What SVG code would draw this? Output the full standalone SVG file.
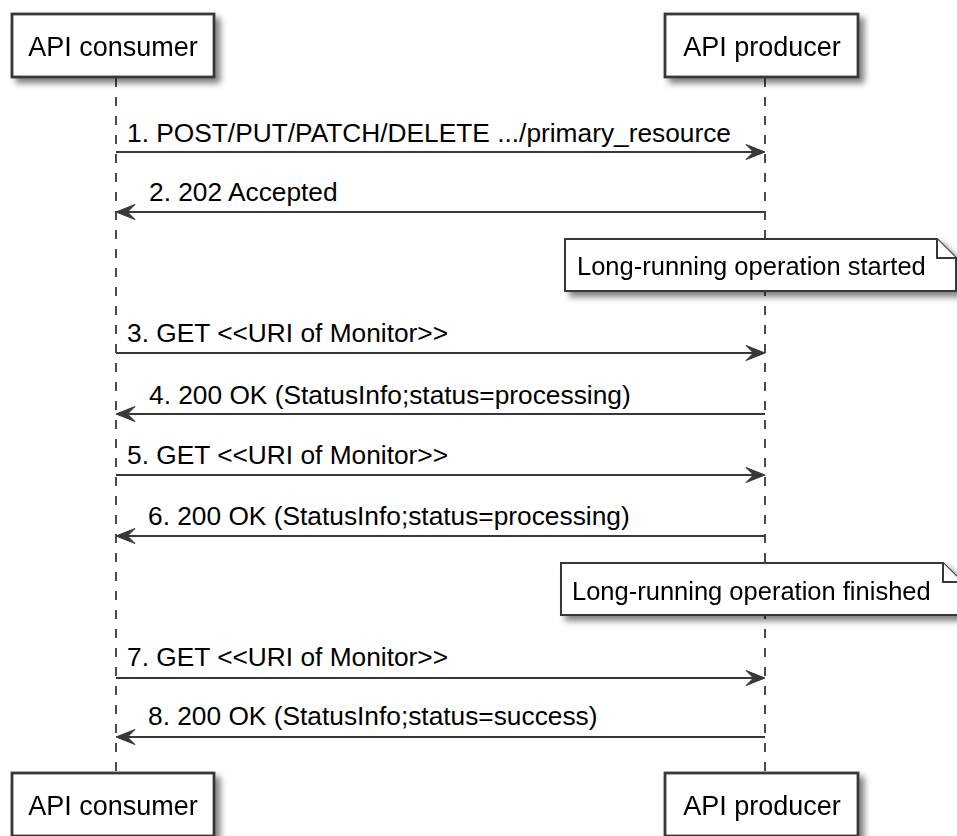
<svg xmlns="http://www.w3.org/2000/svg" width="957" height="836" viewBox="0 0 957 836">
  <style>
    .box { fill: #ffffff; stroke: #383838; stroke-width: 2.8; }
    .note { fill: #ffffff; stroke: #383838; stroke-width: 2; }
    .life { stroke: #383838; stroke-width: 1.8; stroke-dasharray: 9 10; fill: none; }
    .msg { stroke: #383838; stroke-width: 2; fill: none; }
    .head { fill: #383838; stroke: #383838; stroke-width: 1; }
    .ptxt { font-family: "Liberation Sans", Arial, sans-serif; font-size: 27px; fill: #000; text-anchor: middle; }
    .mtxt { font-family: "Liberation Sans", Arial, sans-serif; font-size: 26.3px; fill: #000; }
    .ntxt { font-family: "Liberation Sans", Arial, sans-serif; font-size: 25.5px; fill: #000; }
  </style>
  <defs>
    <filter id="shadow" x="-10%" y="-20%" width="130%" height="160%">
      <feGaussianBlur in="SourceAlpha" stdDeviation="3"/>
      <feOffset dx="5" dy="5" result="b"/>
      <feComponentTransfer><feFuncA type="linear" slope="0.5"/></feComponentTransfer>
      <feMerge><feMergeNode/><feMergeNode in="SourceGraphic"/></feMerge>
    </filter>
  </defs>
  <rect width="957" height="836" fill="#ffffff"/>

  <!-- lifelines -->
  <g id="lifelines">
    <line class="life" x1="116" y1="78" x2="116" y2="773"/>
    <line class="life" x1="765" y1="78" x2="765" y2="773"/>
  </g>

  <!-- participants -->
  <g id="consumer-top" filter="url(#shadow)">
    <rect class="box" x="12" y="14" width="202" height="63"/>
    <text class="ptxt" x="113" y="56">API consumer</text>
  </g>
  <g id="producer-top" filter="url(#shadow)">
    <rect class="box" x="665" y="14" width="193" height="63"/>
    <text class="ptxt" x="762" y="56">API producer</text>
  </g>
  <g id="consumer-bottom" filter="url(#shadow)">
    <rect class="box" x="12" y="773" width="202" height="63"/>
    <text class="ptxt" x="113" y="815">API consumer</text>
  </g>
  <g id="producer-bottom" filter="url(#shadow)">
    <rect class="box" x="665" y="773" width="193" height="63"/>
    <text class="ptxt" x="762" y="815">API producer</text>
  </g>

  <!-- notes -->
  <g id="note-started" filter="url(#shadow)">
    <path class="note" d="M565,239 H937 L956,258 V291 H565 Z"/>
    <path class="note" d="M937,239 V258 H956" fill="none"/>
    <text class="ntxt" x="577" y="275">Long-running operation started</text>
  </g>
  <g id="note-finished" filter="url(#shadow)">
    <path class="note" d="M561,563 H943 L962,582 V615 H561 Z"/>
    <path class="note" d="M943,563 V582 H962" fill="none"/>
    <text class="ntxt" x="572" y="600">Long-running operation finished</text>
  </g>

  <!-- messages -->
  <g id="connectors">
    <line class="msg" x1="116" y1="152" x2="762" y2="152"/>
    <polygon class="head" points="765,152 746,144.5 753.5,152 746,159.5"/>
    <line class="msg" x1="119" y1="212" x2="765" y2="212"/>
    <polygon class="head" points="116,212 135,204.5 127.5,212 135,219.5"/>
    <line class="msg" x1="116" y1="353" x2="762" y2="353"/>
    <polygon class="head" points="765,353 746,345.5 753.5,353 746,360.5"/>
    <line class="msg" x1="119" y1="414" x2="765" y2="414"/>
    <polygon class="head" points="116,414 135,406.5 127.5,414 135,421.5"/>
    <line class="msg" x1="116" y1="475" x2="762" y2="475"/>
    <polygon class="head" points="765,475 746,467.5 753.5,475 746,482.5"/>
    <line class="msg" x1="119" y1="536" x2="765" y2="536"/>
    <polygon class="head" points="116,536 135,528.5 127.5,536 135,543.5"/>
    <line class="msg" x1="116" y1="678" x2="762" y2="678"/>
    <polygon class="head" points="765,678 746,670.5 753.5,678 746,685.5"/>
    <line class="msg" x1="119" y1="737" x2="765" y2="737"/>
    <polygon class="head" points="116,737 135,729.5 127.5,737 135,744.5"/>
  </g>

  <g id="labels">
    <text class="mtxt" x="127" y="142">1. POST/PUT/PATCH/DELETE .../primary_resource</text>
    <text class="mtxt" x="149" y="201">2. 202 Accepted</text>
    <text class="mtxt" x="127" y="342">3. GET &lt;&lt;URI of Monitor&gt;&gt;</text>
    <text class="mtxt" x="149" y="404">4. 200 OK (StatusInfo;status=processing)</text>
    <text class="mtxt" x="127" y="464">5. GET &lt;&lt;URI of Monitor&gt;&gt;</text>
    <text class="mtxt" x="148" y="525">6. 200 OK (StatusInfo;status=processing)</text>
    <text class="mtxt" x="127" y="666">7. GET &lt;&lt;URI of Monitor&gt;&gt;</text>
    <text class="mtxt" x="148" y="725">8. 200 OK (StatusInfo;status=success)</text>
  </g>
</svg>
